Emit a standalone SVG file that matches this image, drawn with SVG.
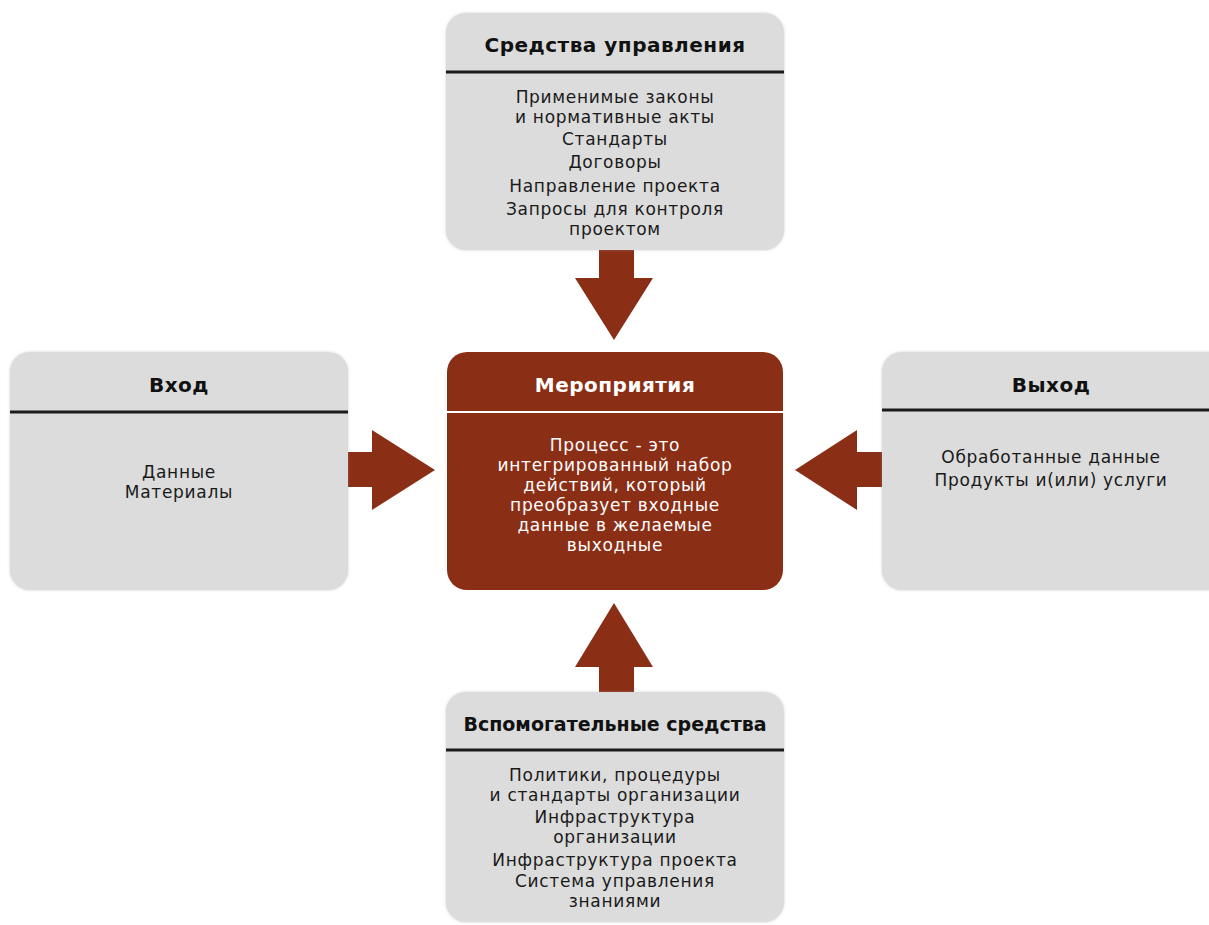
<svg xmlns="http://www.w3.org/2000/svg" width="1209" height="925" viewBox="0 0 1209 925">
<defs>
<filter id="sh" x="-5%" y="-5%" width="110%" height="110%">
<feDropShadow dx="0" dy="0" stdDeviation="1.5" flood-color="#9a9a9a" flood-opacity="0.45"/>
</filter>
</defs>
<style>
.box{fill:#dcdcdc;filter:url(#sh)}
.act{fill:#8b2e16}
.div{stroke:#1a1a1a;stroke-width:3}
.divw{stroke:#ffffff;stroke-width:2}
.arr{fill:#8b2e16}
text{font-family:"DejaVu Sans","Liberation Sans",sans-serif;text-anchor:middle}
.t{font-size:20px;font-weight:bold;fill:#111;letter-spacing:0.5px}
.t2{font-size:19px;font-weight:bold;fill:#111}
.b{font-size:17px;fill:#1a1a1a;letter-spacing:0.7px}
.tw{font-size:20px;font-weight:bold;fill:#fff;letter-spacing:0.5px}
.bw{font-size:17px;fill:#fff;letter-spacing:0.7px}
</style>
<rect width="1209" height="925" fill="#ffffff"/>
<g id="connectors">
<polygon class="arr" points="599,250 634,250 634,278 653,278 614,340 575,278 599,278"/>
<polygon class="arr" points="599,692 634,692 634,667 653,667 614,603 575,667 599,667"/>
<polygon class="arr" points="348,452 372,452 372,430 435,470 372,510 372,487 348,487"/>
<polygon class="arr" points="882,452 857,452 857,430 795,470 857,510 857,487 882,487"/>
</g>
<g id="controls">
<rect class="box" x="446" y="13" width="338" height="237" rx="20"/>
<line class="div" x1="446" y1="72" x2="784" y2="72"/>
<text class="t" x="615" y="52">Средства управления</text>
<text class="b" x="615" y="103">Применимые законы</text>
<text class="b" x="615" y="123">и нормативные акты</text>
<text class="b" x="615" y="145">Стандарты</text>
<text class="b" x="615" y="168">Договоры</text>
<text class="b" x="615" y="192">Направление проекта</text>
<text class="b" x="615" y="215">Запросы для контроля</text>
<text class="b" x="615" y="235">проектом</text>
</g>
<g id="input">
<rect class="box" x="10" y="352" width="338" height="238" rx="20"/>
<line class="div" x1="10" y1="412" x2="348" y2="412"/>
<text class="t" x="179" y="392">Вход</text>
<text class="b" x="179" y="478">Данные</text>
<text class="b" x="179" y="498">Материалы</text>
</g>
<g id="activities">
<rect class="act" x="447" y="352" width="336" height="238" rx="20"/>
<line class="divw" x1="447" y1="412" x2="783" y2="412"/>
<text class="tw" x="615" y="392">Мероприятия</text>
<text class="bw" x="615" y="451">Процесс - это</text>
<text class="bw" x="615" y="471">интегрированный набор</text>
<text class="bw" x="615" y="491">действий, который</text>
<text class="bw" x="615" y="511">преобразует входные</text>
<text class="bw" x="615" y="531">данные в желаемые</text>
<text class="bw" x="615" y="551">выходные</text>
</g>
<g id="output">
<rect class="box" x="882" y="352" width="345" height="238" rx="20"/>
<line class="div" x1="882" y1="410" x2="1227" y2="410"/>
<text class="t" x="1051" y="392">Выход</text>
<text class="b" x="1051" y="463">Обработанные данные</text>
<text class="b" x="1051" y="486">Продукты и(или) услуги</text>
</g>
<g id="support">
<rect class="box" x="446" y="692" width="338" height="230" rx="20"/>
<line class="div" x1="446" y1="750" x2="784" y2="750"/>
<text class="t2" x="615" y="731">Вспомогательные средства</text>
<text class="b" x="615" y="781">Политики, процедуры</text>
<text class="b" x="615" y="801">и стандарты организации</text>
<text class="b" x="615" y="823">Инфраструктура</text>
<text class="b" x="615" y="843">организации</text>
<text class="b" x="615" y="866">Инфраструктура проекта</text>
<text class="b" x="615" y="887">Система управления</text>
<text class="b" x="615" y="907">знаниями</text>
</g>
</svg>
